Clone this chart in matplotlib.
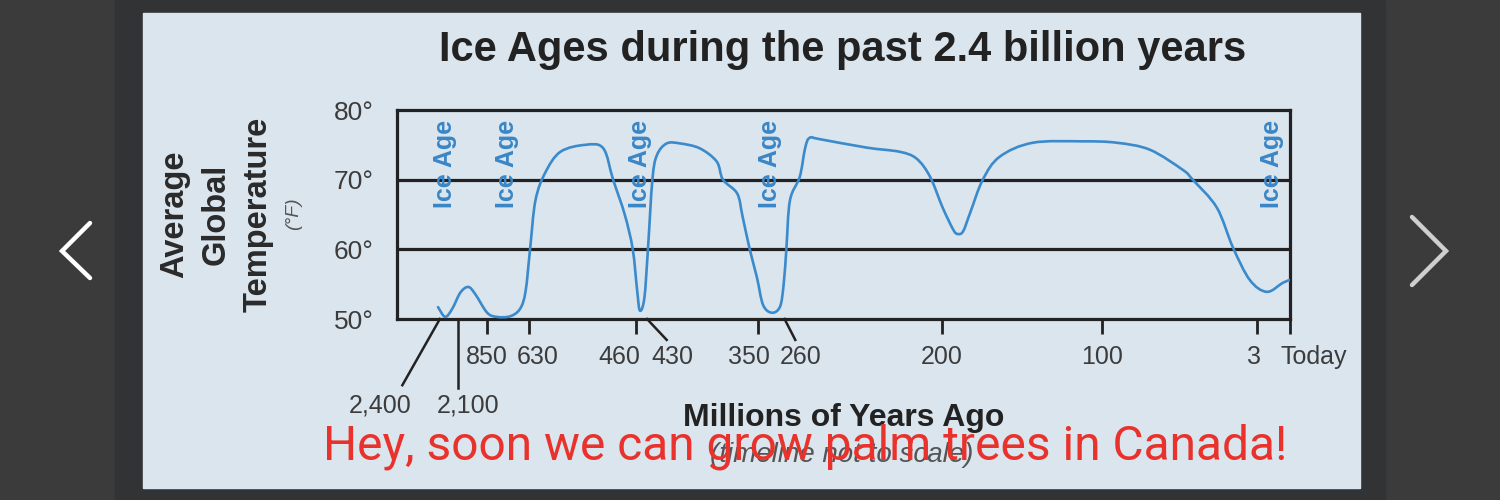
import matplotlib
matplotlib.use("Agg")
import matplotlib.pyplot as plt
from matplotlib.patches import Rectangle, PathPatch
from matplotlib.lines import Line2D
from matplotlib.path import Path

# timeline is "not to scale", so x is a position along the axis (0 = left, 100 = today)
timeline_pos = [4.6, 5.4, 6.2, 7.1, 8.0, 8.8, 10.1, 11.2, 12.7, 13.8, 14.4, 14.9, 15.5,
                16.6, 18.3, 21.1, 23.1, 24.2, 25.5, 26.4, 26.9, 27.2, 27.7, 28.1, 28.6,
                29.1, 30.2, 31.7, 33.9, 35.8, 36.5, 38.1, 38.7, 39.5, 40.3, 41.0, 42.0,
                42.9, 43.3, 43.6, 44.0, 45.1, 45.7, 46.2, 47.4, 52.6, 56.3, 58.2, 59.7,
                61.1, 62.3, 62.8, 63.4, 64.2, 65.6, 67.5, 71.2, 76.8, 80.6, 84.3, 88.0,
                89.1, 91.8, 93.6, 95.5, 97.4, 99.2, 100.0]
temp_f = [51.7, 50.3, 51.5, 53.8, 54.6, 53.5, 50.9, 50.3, 50.4, 51.5, 54.0, 60.0, 67.0,
          71.0, 74.0, 75.0, 74.5, 70.0, 65.0, 60.0, 54.0, 51.2, 53.0, 60.0, 70.0,
          73.5, 75.2, 75.2, 74.5, 72.6, 70.0, 68.0, 64.7, 60.0, 56.0, 52.0, 50.9,
          51.8, 55.0, 60.0, 67.0, 70.4, 74.5, 76.0, 75.8, 74.6, 74.0, 73.0, 70.4,
          66.0, 62.8, 62.2, 62.6, 65.3, 70.0, 73.3, 75.3, 75.5, 75.3, 74.3, 71.4,
          70.0, 66.0, 60.3, 55.6, 53.9, 55.2, 55.6]

# ticks (position on the axis) and where their labels sit
tick_labels = ['2,400', '2,100', '850', '630', '460', '430', '350', '260', '200', '100', '3', 'Today']
tick_pos = [4.8, 6.8, 10.1, 14.8, 26.8, 28.0, 40.4, 43.4, 61.0, 78.9, 96.3, 100.0]
label_pos = [-1.9, 8.0, 10.1, 15.8, 24.9, 30.8, 39.4, 45.2, 61.0, 78.9, 96.0, 98.9]
leader_ticks = ['2,400', '2,100', '430', '260']
leader_end = {'2,400': (0.6, 40.5), '2,100': (6.8, 40.1), '430': (30.2, 47.0), '260': (44.6, 47.0)}
low_labels = ['2,400', '2,100']

ice_age_pos = [5.4, 12.3, 27.2, 41.8, 98.0]
y_ticks = [50, 60, 70, 80]

W, H = 1500, 500
def fx(x):
    return x / W
def fy(y):
    return 1 - y / H

def smooth_path(xs, ys):
    # catmull-rom through the points, drawn as cubic bezier segments
    pts = list(zip(xs, ys))
    verts = [pts[0]]
    codes = [Path.MOVETO]
    for i in range(len(pts) - 1):
        p0 = pts[i - 1] if i > 0 else pts[i]
        p1, p2 = pts[i], pts[i + 1]
        p3 = pts[i + 2] if i + 2 < len(pts) else pts[i + 1]
        c1 = (p1[0] + (p2[0] - p0[0]) / 6, p1[1] + (p2[1] - p0[1]) / 6)
        c2 = (p2[0] - (p3[0] - p1[0]) / 6, p2[1] - (p3[1] - p1[1]) / 6)
        verts += [c1, c2, p2]
        codes += [Path.CURVE4] * 3
    return Path(verts, codes)

fig = plt.figure(figsize=(15, 5), dpi=100)
fig.patch.set_facecolor('#3b3b3c')
fig.add_artist(Rectangle((fx(115), 0), fx(1385 - 115), 1, color='#323335', zorder=0))
fig.add_artist(Rectangle((fx(143), fy(488)), fx(1360 - 143), (488 - 13) / H,
                         color='#dbe5ee', zorder=0))

# slideshow arrows
fig.add_artist(Line2D([fx(90), fx(62), fx(90)], [fy(223), fy(251), fy(278)],
                      color='white', lw=3.2, solid_capstyle='round', solid_joinstyle='miter'))
fig.add_artist(Line2D([fx(1412), fx(1446), fx(1412)], [fy(217), fy(251), fy(285)],
                      color='#cfcfcf', lw=3.2, solid_capstyle='round', solid_joinstyle='miter'))

ax = fig.add_axes([fx(397), fy(319), fx(1290 - 397), (319 - 110) / H])
ax.set_facecolor('none')
ax.set_xlim(0, 100)
ax.set_ylim(50, 80)

for s in ax.spines.values():
    s.set_linewidth(2.3)
    s.set_color('#222222')
for yv in [60, 70]:
    ax.axhline(yv, color='#222222', lw=2.3, zorder=1)

ax.add_patch(PathPatch(smooth_path(timeline_pos, temp_f), facecolor='none',
                       edgecolor='#3a8acc', lw=1.9, zorder=3, capstyle='round',
                       joinstyle='round'))

font = 'Liberation Sans'
gray = '#3c3c3c'

ax.set_yticks(y_ticks)
ax.set_yticklabels([f'{v}°' for v in y_ticks], fontsize=19, color=gray, family=font)
ax.tick_params(axis='y', length=0, pad=17)

normal = [p for p, l in zip(tick_pos, tick_labels) if l not in leader_ticks]
ax.set_xticks(normal)
ax.set_xticklabels([])
ax.tick_params(axis='x', direction='out', length=11, width=2.0, color='#222222')

for lab, p, lp in zip(tick_labels, tick_pos, label_pos):
    if lab in leader_ticks:
        ex, ey = leader_end[lab]
        ax.plot([p, ex], [50, ey], color='#222222', lw=1.8, clip_on=False)
    ty = 37.6 if lab in low_labels else 44.5
    ha = 'left' if lab == 'Today' else 'center'
    ax.text(lp, ty, lab, ha=ha, va='center', fontsize=18, color=gray,
            family=font, clip_on=False)

for p in ice_age_pos:
    ax.text(p, 78.6, 'Ice Age', rotation=90, ha='center', va='top', fontsize=18,
            fontweight='bold', color='#3a86c6', family=font, zorder=4)

fig.text(fx(843), fy(50), 'Ice Ages during the past 2.4 billion years', ha='center',
         va='center', fontsize=30, fontweight='bold', color='#222222', family=font)

for txt, x in [('Average', 175), ('Global', 216), ('Temperature', 258)]:
    fig.text(fx(x), fy(214), txt, rotation=90, ha='center', va='center', fontsize=23.5,
             fontweight='bold', color='#2a2a2a', family=font)
fig.text(fx(294), fy(214), '(°F)', rotation=90, ha='center', va='center', fontsize=14,
         style='italic', color='#555555', family=font)

fig.text(fx(844), fy(418), 'Millions of Years Ago', ha='center', va='center',
         fontsize=23, fontweight='bold', color='#222222', family=font)
fig.text(fx(842), fy(455), '(timeline not to scale)', ha='center', va='center',
         fontsize=20, style='italic', color='#555555', family=font)

fig.text(fx(805), fy(447), 'Hey, soon we can grow palm trees in Canada!', ha='center',
         va='center', fontsize=34.5, color='#e8322b', family='Roboto')

fig.savefig('out.png', dpi=100, facecolor=fig.get_facecolor())
